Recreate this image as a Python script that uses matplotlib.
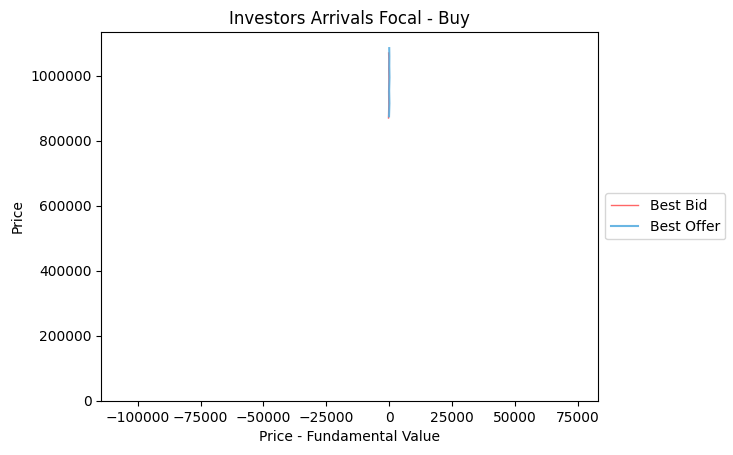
import matplotlib
matplotlib.use('Agg')
import matplotlib.pyplot as plt

bid_x = [-300, -200, -250, -150, -220, -180, -260]
bid_y = [870000, 910000, 950000, 990000, 1020000, 1050000, 1070000]
offer_x = [-100, 50, -50, 80, 0, 30, -20]
offer_y = [875000, 915000, 955000, 995000, 1030000, 1060000, 1085000]

fig, ax = plt.subplots(figsize=(7.33, 4.55), dpi=100)
fig.subplots_adjust(left=0.138, right=0.816, top=0.93, bottom=0.119)
ax.plot(bid_x, bid_y, color='#ff4040', alpha=0.8, linewidth=1, label='Best Bid')
ax.plot(offer_x, offer_y, color='#5aaee0', alpha=0.9, linewidth=1.5, label='Best Offer')
ax.set_xlim(-114500, 83000)
ax.set_ylim(0, 1135000)
ax.ticklabel_format(style='plain', useOffset=False)
ax.set_title('Investors Arrivals Focal - Buy')
ax.set_xlabel('Price - Fundamental Value')
ax.set_ylabel('Price')
ax.legend(loc='center left', bbox_to_anchor=(1, 0.5))
fig.savefig('out.png')
